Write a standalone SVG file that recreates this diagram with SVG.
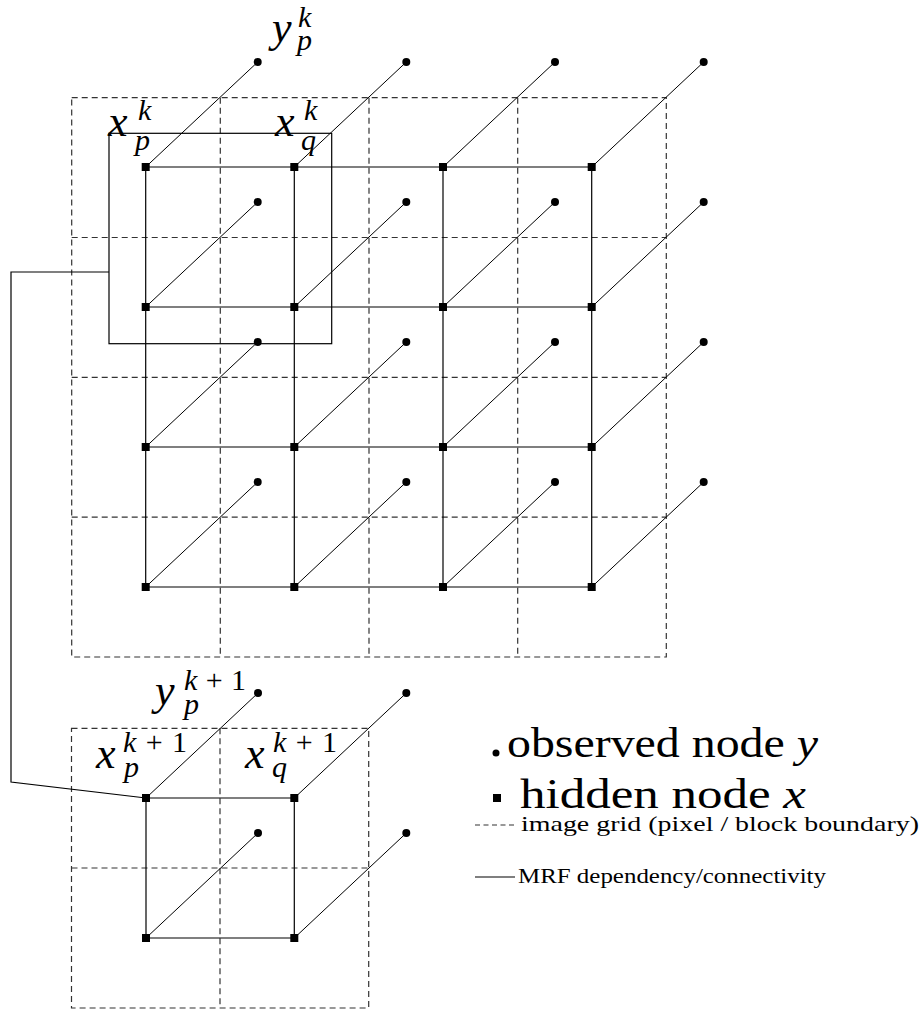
<svg xmlns="http://www.w3.org/2000/svg" width="922" height="1013" viewBox="0 0 922 1013">
<style>
.grid{fill:none;stroke:#333;stroke-width:1.2;stroke-dasharray:6 4}
.edge{fill:none;stroke:#000;stroke-width:1.2}
.diag{fill:none;stroke:#000;stroke-width:1}
.obs{fill:#000}
.hid{fill:#000}
.m{font-style:italic;font-size:44px;font-weight:normal}
.s{font-size:30px}
.up{font-style:normal}
.leg{font-size:43px;font-weight:normal}
.legs{font-size:22px;font-weight:normal}
</style>
<rect width="922" height="1013" fill="#fff"/>
<g id="image-grid">
<rect class="grid" x="71.7" y="97.7" width="594.6" height="559.3"/>
<line class="grid" x1="220.3" y1="97.7" x2="220.3" y2="657"/>
<line class="grid" x1="369" y1="97.7" x2="369" y2="657"/>
<line class="grid" x1="517.7" y1="97.7" x2="517.7" y2="657"/>
<line class="grid" x1="71.7" y1="237.5" x2="666.3" y2="237.5"/>
<line class="grid" x1="71.7" y1="377.3" x2="666.3" y2="377.3"/>
<line class="grid" x1="71.7" y1="517.1" x2="666.3" y2="517.1"/>
<rect class="grid" x="71.5" y="728.3" width="297.2" height="279.7"/>
<line class="grid" x1="220" y1="728.3" x2="220" y2="1008"/>
<line class="grid" x1="71.5" y1="868" x2="368.7" y2="868"/>
</g>
<g id="connectors">
<rect class="edge" x="109" y="133.3" width="222.7" height="210.4"/>
<polyline class="edge" points="109,272 11,272 11,782 146,798"/>
<line class="edge" x1="145.7" y1="167" x2="591.7" y2="167"/>
<line class="edge" x1="145.7" y1="307" x2="591.7" y2="307"/>
<line class="edge" x1="145.7" y1="447" x2="591.7" y2="447"/>
<line class="edge" x1="145.7" y1="587" x2="591.7" y2="587"/>
<line class="edge" x1="145.7" y1="167" x2="145.7" y2="587"/>
<line class="edge" x1="294.3" y1="167" x2="294.3" y2="587"/>
<line class="edge" x1="443" y1="167" x2="443" y2="587"/>
<line class="edge" x1="591.7" y1="167" x2="591.7" y2="587"/>
<line class="diag" x1="145.7" y1="167" x2="257.7" y2="62"/>
<line class="diag" x1="294.3" y1="167" x2="406.3" y2="62"/>
<line class="diag" x1="443" y1="167" x2="555" y2="62"/>
<line class="diag" x1="591.7" y1="167" x2="703.7" y2="62"/>
<line class="diag" x1="145.7" y1="307" x2="257.7" y2="202"/>
<line class="diag" x1="294.3" y1="307" x2="406.3" y2="202"/>
<line class="diag" x1="443" y1="307" x2="555" y2="202"/>
<line class="diag" x1="591.7" y1="307" x2="703.7" y2="202"/>
<line class="diag" x1="145.7" y1="447" x2="257.7" y2="342"/>
<line class="diag" x1="294.3" y1="447" x2="406.3" y2="342"/>
<line class="diag" x1="443" y1="447" x2="555" y2="342"/>
<line class="diag" x1="591.7" y1="447" x2="703.7" y2="342"/>
<line class="diag" x1="145.7" y1="587" x2="257.7" y2="482"/>
<line class="diag" x1="294.3" y1="587" x2="406.3" y2="482"/>
<line class="diag" x1="443" y1="587" x2="555" y2="482"/>
<line class="diag" x1="591.7" y1="587" x2="703.7" y2="482"/>
<line class="edge" x1="146" y1="798" x2="294.3" y2="798"/>
<line class="edge" x1="146" y1="938" x2="294.3" y2="938"/>
<line class="edge" x1="146" y1="798" x2="146" y2="938"/>
<line class="edge" x1="294.3" y1="798" x2="294.3" y2="938"/>
<line class="diag" x1="146" y1="798" x2="258" y2="693"/>
<line class="diag" x1="294.3" y1="798" x2="406.3" y2="693"/>
<line class="diag" x1="146" y1="938" x2="258" y2="833"/>
<line class="diag" x1="294.3" y1="938" x2="406.3" y2="833"/>
</g>
<g id="observed-nodes">
<g id="y-1-1"><circle class="obs" cx="257.7" cy="62" r="4"/></g>
<g id="y-1-2"><circle class="obs" cx="406.3" cy="62" r="4"/></g>
<g id="y-1-3"><circle class="obs" cx="555" cy="62" r="4"/></g>
<g id="y-1-4"><circle class="obs" cx="703.7" cy="62" r="4"/></g>
<g id="y-2-1"><circle class="obs" cx="257.7" cy="202" r="4"/></g>
<g id="y-2-2"><circle class="obs" cx="406.3" cy="202" r="4"/></g>
<g id="y-2-3"><circle class="obs" cx="555" cy="202" r="4"/></g>
<g id="y-2-4"><circle class="obs" cx="703.7" cy="202" r="4"/></g>
<g id="y-3-1"><circle class="obs" cx="257.7" cy="342" r="4"/></g>
<g id="y-3-2"><circle class="obs" cx="406.3" cy="342" r="4"/></g>
<g id="y-3-3"><circle class="obs" cx="555" cy="342" r="4"/></g>
<g id="y-3-4"><circle class="obs" cx="703.7" cy="342" r="4"/></g>
<g id="y-4-1"><circle class="obs" cx="257.7" cy="482" r="4"/></g>
<g id="y-4-2"><circle class="obs" cx="406.3" cy="482" r="4"/></g>
<g id="y-4-3"><circle class="obs" cx="555" cy="482" r="4"/></g>
<g id="y-4-4"><circle class="obs" cx="703.7" cy="482" r="4"/></g>
<g id="yb-1-1"><circle class="obs" cx="258" cy="693" r="4"/></g>
<g id="yb-1-2"><circle class="obs" cx="406.3" cy="693" r="4"/></g>
<g id="yb-2-1"><circle class="obs" cx="258" cy="833" r="4"/></g>
<g id="yb-2-2"><circle class="obs" cx="406.3" cy="833" r="4"/></g>
</g>
<g id="hidden-nodes">
<g id="x-1-1"><rect class="hid" x="141.7" y="163" width="8" height="8"/></g>
<g id="x-1-2"><rect class="hid" x="290.3" y="163" width="8" height="8"/></g>
<g id="x-1-3"><rect class="hid" x="439" y="163" width="8" height="8"/></g>
<g id="x-1-4"><rect class="hid" x="587.7" y="163" width="8" height="8"/></g>
<g id="x-2-1"><rect class="hid" x="141.7" y="303" width="8" height="8"/></g>
<g id="x-2-2"><rect class="hid" x="290.3" y="303" width="8" height="8"/></g>
<g id="x-2-3"><rect class="hid" x="439" y="303" width="8" height="8"/></g>
<g id="x-2-4"><rect class="hid" x="587.7" y="303" width="8" height="8"/></g>
<g id="x-3-1"><rect class="hid" x="141.7" y="443" width="8" height="8"/></g>
<g id="x-3-2"><rect class="hid" x="290.3" y="443" width="8" height="8"/></g>
<g id="x-3-3"><rect class="hid" x="439" y="443" width="8" height="8"/></g>
<g id="x-3-4"><rect class="hid" x="587.7" y="443" width="8" height="8"/></g>
<g id="x-4-1"><rect class="hid" x="141.7" y="583" width="8" height="8"/></g>
<g id="x-4-2"><rect class="hid" x="290.3" y="583" width="8" height="8"/></g>
<g id="x-4-3"><rect class="hid" x="439" y="583" width="8" height="8"/></g>
<g id="x-4-4"><rect class="hid" x="587.7" y="583" width="8" height="8"/></g>
<g id="xb-1-1"><rect class="hid" x="142" y="794" width="8" height="8"/></g>
<g id="xb-1-2"><rect class="hid" x="290.3" y="794" width="8" height="8"/></g>
<g id="xb-2-1"><rect class="hid" x="142" y="934" width="8" height="8"/></g>
<g id="xb-2-2"><rect class="hid" x="290.3" y="934" width="8" height="8"/></g>
</g>
<g id="labels">
<text id="label-ypk" class="m" font-family="Liberation Serif" x="272" y="42">y<tspan class="s" x="298" y="27">k</tspan><tspan class="s" x="297" y="50">p</tspan></text>
<text id="label-xpk" class="m" font-family="Liberation Serif" x="108" y="136">x<tspan class="s" x="138" y="120">k</tspan><tspan class="s" x="135" y="150">p</tspan></text>
<text id="label-xqk" class="m" font-family="Liberation Serif" x="275" y="136">x<tspan class="s" x="304" y="120">k</tspan><tspan class="s" x="301" y="150">q</tspan></text>
<text id="label-ypk1" class="m" font-family="Liberation Serif" x="155" y="705">y<tspan class="s" x="184" y="690" textLength="62" lengthAdjust="spacing">k<tspan class="up">+1</tspan></tspan><tspan class="s" x="184" y="714">p</tspan></text>
<text id="label-xpk1" class="m" font-family="Liberation Serif" x="96" y="768">x<tspan class="s" x="123" y="752" textLength="64" lengthAdjust="spacing">k<tspan class="up">+1</tspan></tspan><tspan class="s" x="124" y="777">p</tspan></text>
<text id="label-xqk1" class="m" font-family="Liberation Serif" x="245" y="768">x<tspan class="s" x="273" y="752" textLength="64" lengthAdjust="spacing">k<tspan class="up">+1</tspan></tspan><tspan class="s" x="272" y="777">q</tspan></text>
</g>
<g id="legend">
<g id="legend-observed"><circle class="obs" cx="496" cy="753" r="3.5"/><text class="leg" font-family="Liberation Serif" x="507" y="757" textLength="311" lengthAdjust="spacingAndGlyphs">observed node <tspan font-style="italic">y</tspan></text></g>
<g id="legend-hidden"><rect class="hid" x="493" y="794" width="8" height="8"/><text class="leg" font-family="Liberation Serif" x="520" y="808" textLength="286" lengthAdjust="spacingAndGlyphs">hidden node <tspan font-style="italic">x</tspan></text></g>
<g id="legend-grid"><line class="grid" x1="475" y1="825" x2="515" y2="825" style="stroke-dasharray:5 3.5"/><text class="legs" font-family="Liberation Serif" x="521" y="831" textLength="398" lengthAdjust="spacingAndGlyphs">image grid (pixel / block boundary)</text></g>
<g id="legend-mrf"><line class="edge" x1="475" y1="877" x2="515" y2="877"/><text class="legs" font-family="Liberation Serif" x="518" y="883" textLength="308" lengthAdjust="spacingAndGlyphs">MRF dependency/connectivity</text></g>
</g>
</svg>
